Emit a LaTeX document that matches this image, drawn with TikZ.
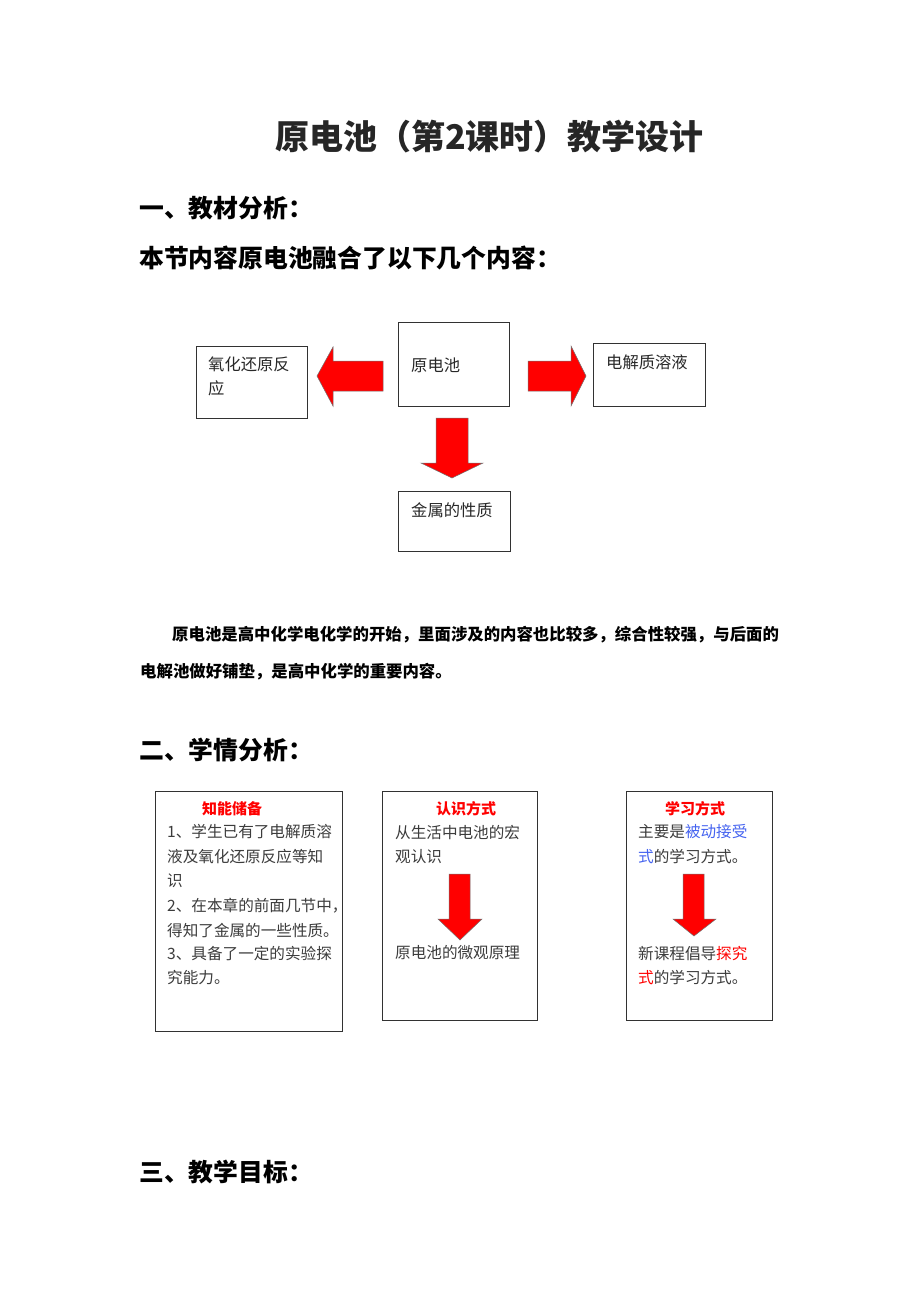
\documentclass[tikz,border=0pt]{standalone}
\usepackage{fontspec}
\setmainfont{Noto Sans CJK SC}
\definecolor{txt}{RGB}{40,40,40}
\definecolor{gtxt}{RGB}{60,60,60}
\definecolor{rd}{RGB}{255,0,0}
\definecolor{bl}{RGB}{70,100,240}
\definecolor{edge}{RGB}{50,50,50}
\tikzset{
  lbl/.style={inner sep=0pt, anchor=west, text=txt},
  boxframe/.style={draw=edge, line width=0.9pt, inner sep=0pt},
  blockarrow/.style={fill=rd, draw=edge!70, line width=0.5pt, line join=miter},
  head/.style={lbl, font=\bfseries\fontsize{24.8}{24.8}\selectfont, text=black},
  small/.style={lbl, font=\fontsize{16.3}{16.3}\selectfont},
  body/.style={lbl, font=\fontsize{15.6}{15.6}\selectfont, text=gtxt},
  ttl/.style={inner sep=0pt, font=\bfseries\fontsize{15}{15}\selectfont, text=rd},
}
\begin{document}
\begin{tikzpicture}[x=1pt,y=-1pt]
\useasboundingbox (0,0) rectangle (920,1302);
\fill[white] (0,0) rectangle (920,1302);
% title and headings
\node[lbl, font=\bfseries\fontsize{34}{34}\selectfont, text=black!85] (title) at (275,137) {原电池（第2课时）教学设计};
\node[head] (h1) at (139,208) {一、教材分析：};
\node[head] (h1b) at (139,258) {本节内容原电池融合了以下几个内容：};
% diagram 1 boxes
\node[boxframe, minimum width=111pt, minimum height=84pt] (yuan) at (454,364) {};
\node[boxframe, minimum width=111pt, minimum height=72pt] (yang) at (251.5,382) {};
\node[boxframe, minimum width=112pt, minimum height=63pt] (dian) at (649,374.5) {};
\node[boxframe, minimum width=112pt, minimum height=60pt] (jin) at (454,521) {};
\node[small] (yuant) at (411,365) {原电池};
\node[small] (yangt1) at (208,364) {氧化还原反};
\node[small] (yangt2) at (208,388) {应};
\node[small] (diant) at (606,362) {电解质溶液};
\node[small] (jint) at (411,510) {金属的性质};
% block arrows
\filldraw[blockarrow] (383,361) -- (333,361) -- (333,347) -- (317,376) -- (333,406) -- (333,391) -- (383,391) -- cycle;
\filldraw[blockarrow] (528,361) -- (571,361) -- (571,346) -- (586,376) -- (571,406) -- (571,391) -- (528,391) -- cycle;
\filldraw[blockarrow] (436,418) -- (468,418) -- (468,463) -- (483,463) -- (452,478) -- (421,463) -- (436,463) -- cycle;
% paragraph
\node[lbl, font=\bfseries\fontsize{16.4}{16.4}\selectfont, text=black] (p1) at (172,635) {原电池是高中化学电化学的开始，里面涉及的内容也比较多，综合性较强，与后面的};
\node[lbl, font=\bfseries\fontsize{16.4}{16.4}\selectfont, text=black] (p2) at (140,672) {电解池做好铺垫，是高中化学的重要内容。};
\node[head] (h2) at (139,750) {二、学情分析：};
% section 2 boxes
\node[boxframe, minimum width=187pt, minimum height=240pt] (b1) at (248.5,911) {};
\node[boxframe, minimum width=155pt, minimum height=229pt] (b2) at (459.5,905.5) {};
\node[boxframe, minimum width=146pt, minimum height=229pt] (b3) at (699,905.5) {};
\node[ttl] (t1) at (232,809) {知能储备};
\node[ttl] (t2) at (466,809) {认识方式};
\node[ttl] (t3) at (695,809) {学习方式};
\node[body] (l11) at (167,832) {1、学生已有了电解质溶};
\node[body] (l12) at (167,857) {液及氧化还原反应等知};
\node[body] (l13) at (167,881) {识};
\node[body] (l14) at (167,906) {2、在本章的前面几节中，};
\node[body] (l15) at (167,930) {得知了金属的一些性质。};
\node[body] (l16) at (167,954) {3、具备了一定的实验探};
\node[body] (l17) at (167,978) {究能力。};
\node[body] (l21) at (395,832) {从生活中电池的宏};
\node[body] (l22) at (395,857) {观认识};
\node[body] (l23) at (395,953) {原电池的微观原理};
\node[body] (l31) at (638,832) {主要是\textcolor{bl}{被动接受}};
\node[body] (l32) at (638,857) {\textcolor{bl}{式}的学习方式。};
\node[body] (l33) at (638,953) {新课程倡导\textcolor{rd}{探究}};
\node[body] (l34) at (638,978) {\textcolor{rd}{式}的学习方式。};
\filldraw[blockarrow] (449,874) -- (470,874) -- (470,919) -- (482,919) -- (460,940) -- (438,919) -- (449,919) -- cycle;
\filldraw[blockarrow] (683,874) -- (704,874) -- (704,919) -- (716,919) -- (694,936) -- (673,919) -- (683,919) -- cycle;
\node[head] (h3) at (139,1172) {三、教学目标：};
\end{tikzpicture}
\end{document}
